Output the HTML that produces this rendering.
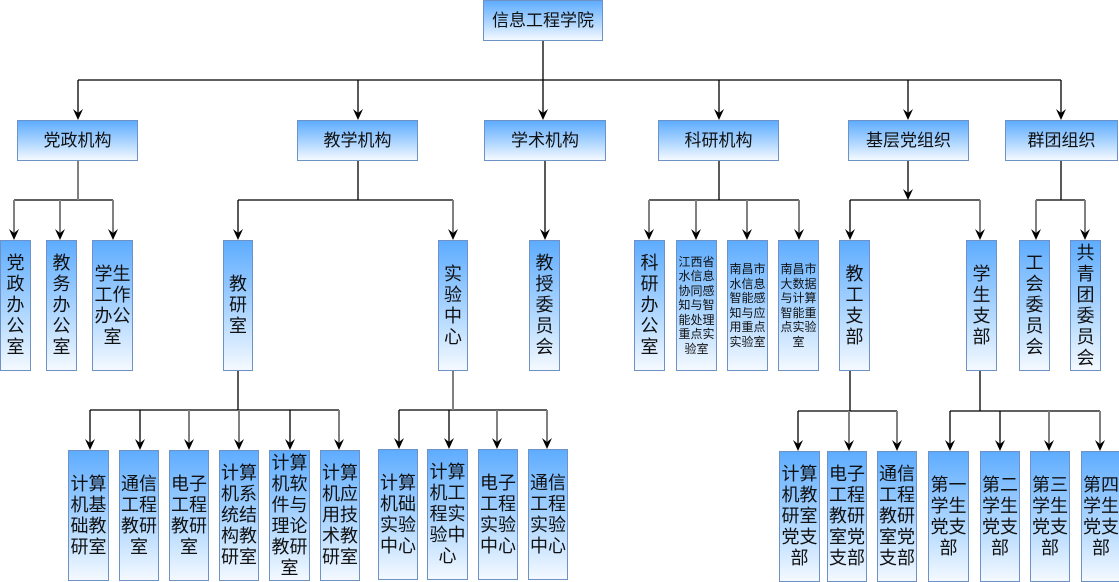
<!DOCTYPE html>
<html><head><meta charset="utf-8"><style>
html,body{margin:0;padding:0;background:#fff;}
#c{position:relative;width:1119px;height:582px;overflow:hidden;font-family:"Liberation Sans","Noto Sans CJK SC",sans-serif;color:#111;}
svg{position:absolute;left:0;top:0;}
.b{position:absolute;box-sizing:border-box;border:1px solid #6e92c6;background:linear-gradient(#5eacff,#b5daff 60%,#f4f9ff);display:flex;align-items:center;justify-content:center;text-align:center;font-size:18px;line-height:21px;}
.h{font-size:17px;}
.s{font-size:12px;line-height:14.5px;}
</style></head><body><div id="c">
<svg width="1119" height="582" viewBox="0 0 1119 582">
<defs><path id="a" d="M-5,-11 L0,0 L5,-11 L0,-7 z" fill="#000"/></defs>
<g stroke="#000" stroke-width="1.3" fill="none">
<line x1="543" y1="40" x2="543" y2="80"/>
<line x1="78" y1="80" x2="1061" y2="80"/>
<line x1="78" y1="80" x2="78" y2="116"/>
<line x1="358" y1="80" x2="358" y2="116"/>
<line x1="543" y1="80" x2="543" y2="116"/>
<line x1="719" y1="80" x2="719" y2="116"/>
<line x1="908" y1="80" x2="908" y2="116"/>
<line x1="1061" y1="80" x2="1061" y2="116"/>
<line x1="14" y1="200" x2="113" y2="200"/>
<line x1="238" y1="200" x2="453" y2="200"/>
<line x1="358" y1="160" x2="358" y2="200"/>
<line x1="238" y1="200" x2="238" y2="236"/>
<line x1="545" y1="160" x2="545" y2="236"/>
<line x1="719" y1="160" x2="719" y2="200"/>
<line x1="649" y1="200" x2="799" y2="200"/>
<line x1="908" y1="160" x2="908" y2="196"/>
<line x1="850" y1="200" x2="980" y2="200"/>
<line x1="850" y1="200" x2="850" y2="236"/>
<line x1="1061" y1="160" x2="1061" y2="200"/>
<line x1="1036" y1="200" x2="1085" y2="200"/>
<line x1="238" y1="370" x2="238" y2="410"/>
<line x1="90" y1="410" x2="339" y2="410"/>
<line x1="90" y1="410" x2="90" y2="446"/>
<line x1="140" y1="410" x2="140" y2="446"/>
<line x1="290" y1="410" x2="290" y2="446"/>
<line x1="399" y1="410" x2="547" y2="410"/>
<line x1="399" y1="410" x2="399" y2="445"/>
<line x1="449" y1="410" x2="449" y2="445"/>
<line x1="850" y1="370" x2="850" y2="411"/>
<line x1="798" y1="411" x2="897" y2="411"/>
<line x1="798" y1="411" x2="798" y2="447"/>
<line x1="980" y1="370" x2="980" y2="411"/>
<line x1="950" y1="411" x2="1100" y2="411"/>
<line x1="950" y1="411" x2="950" y2="447"/>
<line x1="1000" y1="411" x2="1000" y2="447"/>
</g>
<g stroke="#808080" stroke-width="2" fill="none">
<line x1="78" y1="160" x2="78" y2="200"/>
<line x1="14" y1="200" x2="14" y2="236"/>
<line x1="60" y1="200" x2="60" y2="236"/>
<line x1="113" y1="200" x2="113" y2="236"/>
<line x1="453" y1="200" x2="453" y2="236"/>
<line x1="649" y1="200" x2="649" y2="236"/>
<line x1="696" y1="200" x2="696" y2="236"/>
<line x1="747" y1="200" x2="747" y2="236"/>
<line x1="799" y1="200" x2="799" y2="236"/>
<line x1="980" y1="200" x2="980" y2="236"/>
<line x1="1036" y1="200" x2="1036" y2="236"/>
<line x1="1085" y1="200" x2="1085" y2="236"/>
<line x1="189" y1="410" x2="189" y2="446"/>
<line x1="239" y1="410" x2="239" y2="446"/>
<line x1="339" y1="410" x2="339" y2="446"/>
<line x1="453" y1="370" x2="453" y2="410"/>
<line x1="497" y1="410" x2="497" y2="445"/>
<line x1="547" y1="410" x2="547" y2="445"/>
<line x1="849" y1="411" x2="849" y2="447"/>
<line x1="897" y1="411" x2="897" y2="447"/>
<line x1="1049" y1="411" x2="1049" y2="447"/>
<line x1="1100" y1="411" x2="1100" y2="447"/>
</g>
<g>
<use href="#a" x="78" y="120"/><use href="#a" x="358" y="120"/><use href="#a" x="543" y="120"/><use href="#a" x="719" y="120"/><use href="#a" x="908" y="120"/><use href="#a" x="1061" y="120"/>
<use href="#a" x="14" y="240"/><use href="#a" x="60" y="240"/><use href="#a" x="113" y="240"/><use href="#a" x="238" y="240"/><use href="#a" x="453" y="240"/><use href="#a" x="545" y="240"/><use href="#a" x="649" y="240"/><use href="#a" x="696" y="240"/><use href="#a" x="747" y="240"/><use href="#a" x="799" y="240"/><use href="#a" x="850" y="240"/><use href="#a" x="980" y="240"/><use href="#a" x="1036" y="240"/><use href="#a" x="1085" y="240"/>
<use href="#a" x="908" y="200"/>
<use href="#a" x="90" y="450"/><use href="#a" x="140" y="450"/><use href="#a" x="189" y="450"/><use href="#a" x="239" y="450"/><use href="#a" x="290" y="450"/><use href="#a" x="339" y="450"/>
<use href="#a" x="399" y="449"/><use href="#a" x="449" y="449"/><use href="#a" x="497" y="449"/><use href="#a" x="547" y="449"/>
<use href="#a" x="798" y="451"/><use href="#a" x="849" y="451"/><use href="#a" x="897" y="451"/><use href="#a" x="950" y="451"/><use href="#a" x="1000" y="451"/><use href="#a" x="1049" y="451"/><use href="#a" x="1100" y="451"/>
</g>
</svg>

<div class="b h" style="left:483px;top:0;width:120px;height:41px;">信息工程学院</div>
<div class="b h" style="left:17px;top:120px;width:121px;height:41px;">党政机构</div>
<div class="b h" style="left:297px;top:120px;width:121px;height:41px;">教学机构</div>
<div class="b h" style="left:484px;top:120px;width:122px;height:41px;">学术机构</div>
<div class="b h" style="left:658px;top:120px;width:121px;height:41px;">科研机构</div>
<div class="b h" style="left:848px;top:120px;width:121px;height:41px;">基层党组织</div>
<div class="b h" style="left:1005px;top:120px;width:113px;height:41px;">群团组织</div>

<div class="b" style="left:0;top:240px;width:31px;height:131px;">党<br>政<br>办<br>公<br>室</div>
<div class="b" style="left:46px;top:240px;width:31px;height:131px;">教<br>务<br>办<br>公<br>室</div>
<div class="b" style="left:92px;top:240px;width:41px;height:131px;">学生<br>工作<br>办公<br>室</div>
<div class="b" style="left:223px;top:240px;width:30px;height:131px;">教<br>研<br>室</div>
<div class="b" style="left:438px;top:240px;width:30px;height:131px;">实<br>验<br>中<br>心</div>
<div class="b" style="left:529px;top:240px;width:31px;height:131px;">教<br>授<br>委<br>员<br>会</div>
<div class="b" style="left:634px;top:240px;width:31px;height:131px;">科<br>研<br>办<br>公<br>室</div>
<div class="b s" style="left:676px;top:240px;width:41px;height:131px;">江西省<br>水信息<br>协同感<br>知与智<br>能处理<br>重点实<br>验室</div>
<div class="b s" style="left:727px;top:240px;width:41px;height:131px;">南昌市<br>水信息<br>智能感<br>知与应<br>用重点<br>实验室</div>
<div class="b s" style="left:778px;top:240px;width:41px;height:131px;">南昌市<br>大数据<br>与计算<br>智能重<br>点实验<br>室</div>
<div class="b" style="left:839px;top:240px;width:31px;height:131px;">教<br>工<br>支<br>部</div>
<div class="b" style="left:966px;top:240px;width:31px;height:131px;">学<br>生<br>支<br>部</div>
<div class="b" style="left:1019px;top:240px;width:31px;height:131px;">工<br>会<br>委<br>员<br>会</div>
<div class="b" style="left:1070px;top:240px;width:31px;height:131px;">共<br>青<br>团<br>委<br>员<br>会</div>

<div class="b" style="left:68px;top:450px;width:41px;height:131px;">计算<br>机基<br>础教<br>研室</div>
<div class="b" style="left:119px;top:450px;width:40px;height:131px;">通信<br>工程<br>教研<br>室</div>
<div class="b" style="left:169px;top:450px;width:40px;height:131px;">电子<br>工程<br>教研<br>室</div>
<div class="b" style="left:219px;top:450px;width:40px;height:131px;">计算<br>机系<br>统结<br>构教<br>研室</div>
<div class="b" style="left:269px;top:450px;width:41px;height:131px;">计算<br>机软<br>件与<br>理论<br>教研<br>室</div>
<div class="b" style="left:320px;top:450px;width:40px;height:131px;">计算<br>机应<br>用技<br>术教<br>研室</div>
<div class="b" style="left:378px;top:449px;width:40px;height:131px;">计算<br>机础<br>实验<br>中心</div>
<div class="b" style="left:427px;top:449px;width:41px;height:131px;">计算<br>机工<br>程实<br>验中<br>心</div>
<div class="b" style="left:478px;top:449px;width:40px;height:131px;">电子<br>工程<br>实验<br>中心</div>
<div class="b" style="left:528px;top:449px;width:40px;height:131px;">通信<br>工程<br>实验<br>中心</div>
<div class="b" style="left:779px;top:451px;width:41px;height:131px;">计算<br>机教<br>研室<br>党支<br>部</div>
<div class="b" style="left:827px;top:451px;width:40px;height:131px;">电子<br>工程<br>教研<br>室党<br>支部</div>
<div class="b" style="left:877px;top:451px;width:40px;height:131px;">通信<br>工程<br>教研<br>室党<br>支部</div>
<div class="b" style="left:928px;top:451px;width:41px;height:131px;">第一<br>学生<br>党支<br>部</div>
<div class="b" style="left:980px;top:451px;width:40px;height:131px;">第二<br>学生<br>党支<br>部</div>
<div class="b" style="left:1030px;top:451px;width:40px;height:131px;">第三<br>学生<br>党支<br>部</div>
<div class="b" style="left:1081px;top:451px;width:40px;height:131px;">第四<br>学生<br>党支<br>部</div>
</div></body></html>
